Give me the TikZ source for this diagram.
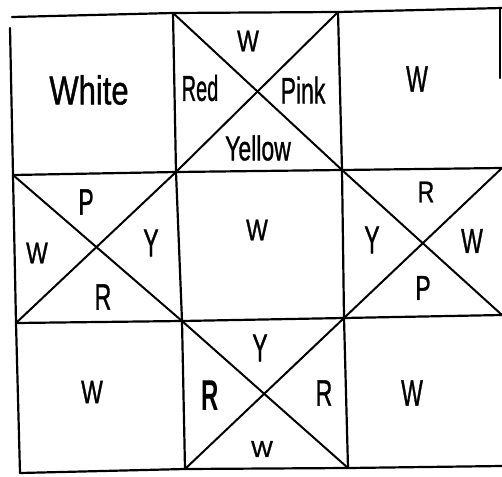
\documentclass[tikz,border=0pt]{standalone}
\usepackage{fontspec}
\setmainfont{Liberation Sans}
\newcommand\hwtext[2][1.6]{\scalebox{1}[#1]{#2}}
\begin{document}
\begin{tikzpicture}[x=1pt,y=-1pt,
  gridline/.style={line width=2.2pt, line cap=round, line join=round},
  diag/.style={line width=2pt, line cap=round},
  lab/.style={inner sep=0pt, font=\fontsize{23}{26}\selectfont\addfontfeature{FakeBold=1.2}}]
\useasboundingbox (0,0) rectangle (502,476);
% grid corners
\coordinate (a0) at (12,17);  \coordinate (a1) at (173,13);
\coordinate (a2) at (338,12); \coordinate (a3) at (502,8);
\coordinate (b0) at (13,175); \coordinate (b1) at (176,172);
\coordinate (b2) at (342,170);\coordinate (b3) at (502,168);
\coordinate (c0) at (16,323); \coordinate (c1) at (182,321);
\coordinate (c2) at (344,318);\coordinate (c3) at (502,315);
\coordinate (d0) at (20,473); \coordinate (d1) at (185,469);
\coordinate (d2) at (348,468);\coordinate (d3) at (502,466);
\coordinate (lt) at (10,28);
\coordinate (rt) at (500,9); \coordinate (rb) at (500,78);
% horizontal lines
\draw[gridline] (a0) -- (a1) -- (a2) -- (a3);
\draw[gridline] (b0) -- (b1) -- (b2) -- (b3);
\draw[gridline] (c0) -- (c1) -- (c2) -- (c3);
\draw[gridline] (d0) -- (d1) -- (d2) -- (d3);
% vertical lines
\draw[gridline] (lt) -- (b0) -- (c0) -- (d0);
\draw[gridline] (a1) -- (b1) -- (c1) -- (d1);
\draw[gridline] (a2) -- (b2) -- (c2) -- (d2);
\draw[gridline] (rt) -- (rb);
% diagonals
\draw[diag] (a1) -- (b2); \draw[diag] (a2) -- (b1);
\draw[diag] (b0) -- (c1); \draw[diag] (b1) -- (c0);
\draw[diag] (b2) -- (c3); \draw[diag] (b3) -- (c2);
\draw[diag] (c1) -- (d2); \draw[diag] (c2) -- (d1);
% labels
\node[lab, font=\fontsize{31}{34}\selectfont\addfontfeature{FakeBold=1.2}] (white) at (89,90) {\hwtext[1.3]{White}};
\node[lab] (tmW) at (248,41) {\hwtext[1.3]{W}};
\node[lab, font=\fontsize{20}{24}\selectfont\addfontfeature{FakeBold=1.2}] (tmRed) at (200,88) {\hwtext[1.8]{Red}};
\node[lab] (tmPink) at (303,90) {\hwtext[1.6]{Pink}};
\node[lab] (tmYellow) at (258,148) {\hwtext[1.5]{Yellow}};
\node[lab] (trW) at (417,79) {\hwtext{W}};
\node[lab] (mlP) at (86,202) {\hwtext{P}};
\node[lab] (mlW) at (37,253) {\hwtext[1.3]{W}};
\node[lab] (mlY) at (151,243) {\hwtext[1.7]{Y}};
\node[lab] (mlR) at (103,297) {\hwtext{R}};
\node[lab] (cW) at (257,230) {\hwtext[1.3]{W}};
\node[lab] (mrR) at (426,192) {\hwtext[1.3]{R}};
\node[lab] (mrY) at (372,240) {\hwtext[1.7]{Y}};
\node[lab] (mrW) at (472,241) {\hwtext[1.5]{W}};
\node[lab] (mrP) at (423,288) {\hwtext[1.5]{P}};
\node[lab] (blW) at (92,392) {\hwtext[1.4]{W}};
\node[lab] (bmY) at (260,348) {\hwtext[1.7]{Y}};
\node[lab, font=\fontsize{24}{26}\selectfont\bfseries] (bmR1) at (210,396) {\hwtext[1.8]{R}};
\node[lab] (bmR2) at (324,393) {\hwtext[1.6]{R}};
\node[lab] (bmW) at (262,449) {\hwtext[1.0]{W}};
\node[lab] (brW) at (412,393) {\hwtext[1.6]{W}};
\end{tikzpicture}
\end{document}
